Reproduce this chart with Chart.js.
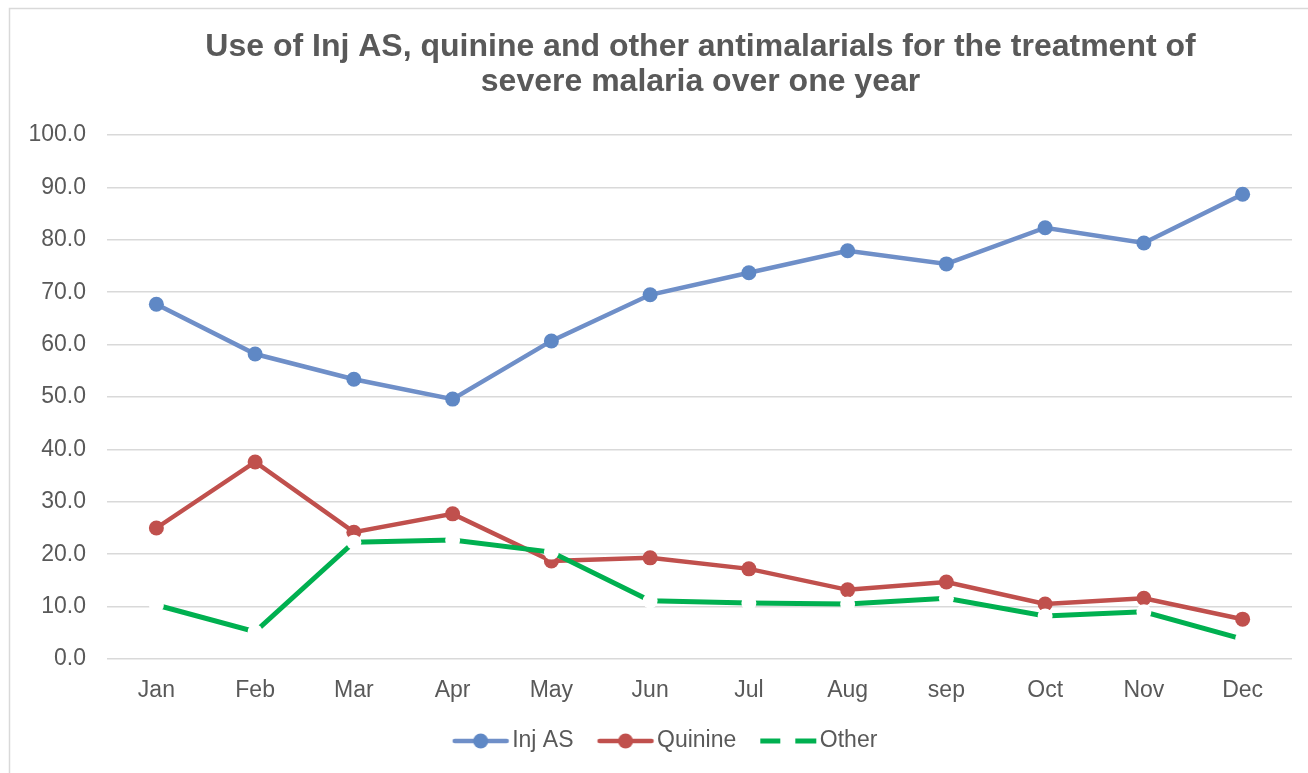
<!DOCTYPE html>
<html>
<head>
<meta charset="utf-8">
<script src="https://cdn.jsdelivr.net/npm/chart.js@4"></script>
<style>
  html, body { margin: 0; padding: 0; background: #fff; }
  #wrap { position: relative; width: 1308px; height: 773px; }
</style>
</head>
<body>
<div id="wrap"><canvas id="c" width="1308" height="773"></canvas></div>
<script>
// Monthly share (%) of each treatment used for severe malaria
const months = ['Jan', 'Feb', 'Mar', 'Apr', 'May', 'Jun', 'Jul', 'Aug', 'sep', 'Oct', 'Nov', 'Dec'];
const injAS   = [67.7, 58.2, 53.4, 49.6, 60.7, 69.5, 73.7, 77.9, 75.4, 82.3, 79.4, 88.7];
const quinine = [25.0, 37.6, 24.2, 27.7, 18.7, 19.3, 17.2, 13.2, 14.7, 10.5, 11.6, 7.6];
const other   = [10.3, 5.2, 22.3, 22.7, 20.4, 11.1, 10.7, 10.5, 11.6, 8.2, 9.0, 3.8];
const yTicks  = [0, 10, 20, 30, 40, 50, 60, 70, 80, 90, 100];
const titleLines = ['Use of Inj AS, quinine and other antimalarials for the treatment of',
                    'severe malaria over one year'];

const TEXT = '#595959';
const GRID = '#d9d9d9';
const BLUE_LINE = '#6f8fc8', BLUE_PT = '#5f88c5';
const RED = '#c0504d';
const GREEN = '#00b050';
const FONT = "'Liberation Sans', Arial, sans-serif";

// Legend sample images: a short line with marker, or a dashed line
const SAMPLE_W = 62;    // legend box width reserved before the text
const LEAD = 14;        // blank lead-in before the drawn sample
function sample(kind, lineColor, ptColor) {
  const c = document.createElement('canvas');
  c.width = SAMPLE_W * 2; c.height = 18;
  const g = c.getContext('2d');
  const x0 = SAMPLE_W / 2 + LEAD, x1 = x0 + 56, y = 9;
  g.lineCap = 'round';
  if (kind === 'dash') {
    g.strokeStyle = lineColor; g.lineWidth = 5; g.lineCap = 'butt';
    g.beginPath(); g.moveTo(x0, y); g.lineTo(x0 + 20, y); g.stroke();
    g.beginPath(); g.moveTo(x0 + 35, y); g.lineTo(x0 + 56, y); g.stroke();
  } else {
    g.strokeStyle = lineColor; g.lineWidth = 4.5;
    g.beginPath(); g.moveTo(x0 + 2, y); g.lineTo(x1 - 2, y); g.stroke();
    g.fillStyle = ptColor;
    g.beginPath(); g.arc((x0 + x1) / 2, y, 7.5, 0, Math.PI * 2); g.fill();
  }
  return c;
}
const legendSamples = [
  sample('marker', BLUE_LINE, BLUE_PT),
  sample('marker', RED, RED),
  sample('dash', GREEN, GREEN)
];

// Chart frame (top and left edges) and the two-line title centred over the plot
const framePlugin = {
  id: 'frame',
  beforeDraw(chart) {
    const ctx = chart.ctx;
    ctx.save();
    ctx.fillStyle = '#fff';
    ctx.fillRect(0, 0, chart.width, chart.height);
    ctx.strokeStyle = GRID; ctx.lineWidth = 1.5;
    ctx.beginPath();
    ctx.moveTo(9.5, chart.height); ctx.lineTo(9.5, 8.5); ctx.lineTo(chart.width, 8.5);
    ctx.stroke();
    ctx.restore();
  },
  afterDraw(chart) {
    const ctx = chart.ctx, a = chart.chartArea;
    const cx = (a.left + a.right) / 2;
    ctx.save();
    ctx.fillStyle = TEXT;
    ctx.font = "bold 32px " + FONT;
    ctx.textAlign = 'center';
    ctx.textBaseline = 'middle';
    titleLines.forEach((t, i) => ctx.fillText(t, cx + 1, 47 + i * 35));
    ctx.restore();
  }
};

new Chart(document.getElementById('c'), {
  type: 'line',
  data: {
    labels: months,
    datasets: [
      { label: 'Inj AS', data: injAS, borderColor: BLUE_LINE, borderWidth: 4.5,
        pointBackgroundColor: BLUE_PT, pointBorderColor: BLUE_PT, pointRadius: 7.5, pointBorderWidth: 0,
        tension: 0, order: 3 },
      { label: 'Quinine', data: quinine, borderColor: RED, borderWidth: 4.5,
        pointBackgroundColor: RED, pointBorderColor: RED, pointRadius: 7.5, pointBorderWidth: 0,
        tension: 0, order: 2 },
      { label: 'Other', data: other, borderColor: GREEN, borderWidth: 5,
        pointBackgroundColor: '#ffffff', pointBorderColor: '#ffffff', pointRadius: 7.5, pointBorderWidth: 0,
        tension: 0, order: 1 }
    ]
  },
  options: {
    responsive: false,
    animation: false,
    devicePixelRatio: 1,
    layout: { padding: { left: 24, right: 16, top: 135, bottom: 10.5 } },
    plugins: {
      title: { display: false },
      tooltip: { enabled: false },
      legend: {
        position: 'bottom',
        labels: {
          color: TEXT,
          font: { family: FONT, size: 23 },
          padding: 10,
          usePointStyle: true,
          pointStyleWidth: SAMPLE_W,
          generateLabels(chart) {
            return chart.data.datasets.map((d, i) => ({
              text: d.label, datasetIndex: i, pointStyle: legendSamples[i],
              fontColor: TEXT, hidden: false, lineWidth: 0,
              strokeStyle: 'transparent', fillStyle: 'transparent'
            }));
          }
        }
      }
    },
    scales: {
      x: {
        offset: true,
        grid: { display: false, drawTicks: false },
        border: { display: false },
        ticks: { color: TEXT, font: { family: FONT, size: 23 }, padding: 18, maxRotation: 0 },
        afterFit(s) { s.height = 60.5; }
      },
      y: {
        min: 0, max: 100,
        afterBuildTicks(s) { s.ticks = yTicks.map(v => ({ value: v })); },
        grid: { color: GRID, lineWidth: 1.5, drawTicks: false },
        border: { display: false },
        ticks: { color: TEXT, font: { family: FONT, size: 23 }, padding: 21,
                 callback: v => Number(v).toFixed(1) },
        afterFit(s) { s.width = 83; }
      }
    }
  },
  plugins: [framePlugin]
});
</script>
</body>
</html>
